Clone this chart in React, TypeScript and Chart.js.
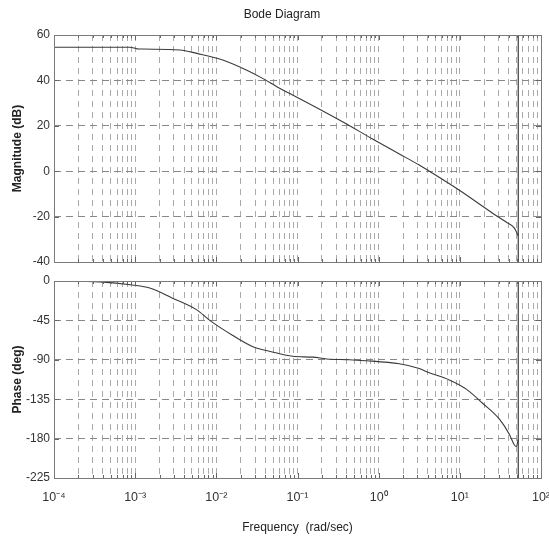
import React, { useEffect, useRef } from "react";
import { Chart, registerables } from "chart.js";

Chart.register(...registerables);

// ---------- data ----------
const magFreq = [0.0001, 0.00086, 0.00106, 0.00124, 0.00355, 0.00575, 0.012, 0.0234, 0.0372, 0.0603, 0.087, 0.359, 0.84, 1.8, 3.16, 4.57, 9.77, 25.1, 37.2, 46.8, 52.5];
const magDb = [54.6, 54.6, 53.9, 53.8, 53.4, 51.9, 49.0, 44.6, 40.9, 36.5, 33.6, 21.8, 14.2, 7.6, 2.7, -0.8, -8.3, -18.4, -22.4, -25.0, -28.5];

const phaseFreq = [0.0001, 0.00037, 0.00093, 0.00151, 0.00288, 0.00575, 0.0083, 0.0158, 0.0282, 0.049, 0.087, 0.155, 0.229, 0.436, 0.708, 1.8, 3.16, 3.98, 7.41, 12.0, 19.05, 30.9, 40.7, 46.8, 49.5, 52.5];
const phaseDeg = [0, -1, -4.6, -8, -19.6, -33, -45, -62, -75, -81, -86, -87, -89, -90, -91, -94.6, -100, -104, -113, -123.5, -139.6, -158, -175, -187, -189, -181];

const markerFreq = 52.5;

const magTicks = [-40, -20, 0, 20, 40, 60];
const phaseTicks = [-225, -180, -135, -90, -45, 0];
const decadeExponents = [-4, -3, -2, -1, 0, 1, 2];
const decadeLabels = ["10⁻⁴", "10⁻³", "10⁻²", "10⁻¹", "10⁰", "10¹", "10²"];
const minorMultipliers = [1, 2, 3, 4, 5, 6, 7, 8, 9];

const titleText = "Bode Diagram";
const magLabel = "Magnitude (dB)";
const phaseLabel = "Phase (deg)";
const freqLabel = "Frequency  (rad/sec)";

// ---------- helpers ----------
const FONT = '"Liberation Sans", Arial, sans-serif';

const freqTicks: number[] = [];
decadeExponents.forEach((e, i) => {
  if (i === decadeExponents.length - 1) {
    freqTicks.push(Math.pow(10, e));
  } else {
    minorMultipliers.forEach((m) => freqTicks.push(m * Math.pow(10, e)));
  }
});

function decadeLabel(v: number): string {
  for (let i = 0; i < decadeExponents.length; i++) {
    const d = Math.pow(10, decadeExponents[i]);
    if (Math.abs(v - d) / d < 1e-6) return decadeLabels[i];
  }
  return "";
}

const framePlugin = {
  id: "frame",
  afterDraw(chart: any, _args: any, opts: any) {
    const { ctx, chartArea: a } = chart;
    const xs = chart.scales.x;
    const ys = chart.scales.y;
    ctx.save();
    // inward tick marks
    ctx.strokeStyle = "#666";
    ctx.lineWidth = 1;
    ctx.setLineDash([]);
    ctx.beginPath();
    freqTicks.forEach((v) => {
      const px = Math.round(xs.getPixelForValue(v)) + 0.5;
      const isMajor = decadeLabel(v) !== "";
      const len = isMajor ? 5 : 3;
      ctx.moveTo(px, a.top);
      ctx.lineTo(px, a.top + len);
      ctx.moveTo(px, a.bottom);
      ctx.lineTo(px, a.bottom - len);
    });
    (opts.yTicks as number[]).forEach((v) => {
      const py = Math.round(ys.getPixelForValue(v)) + 0.5;
      ctx.moveTo(a.left, py);
      ctx.lineTo(a.left + 5, py);
      ctx.moveTo(a.right, py);
      ctx.lineTo(a.right - 5, py);
    });
    ctx.stroke();
    // frame
    ctx.strokeStyle = "#7a7a7a";
    ctx.strokeRect(Math.round(a.left) + 0.5, Math.round(a.top) + 0.5, Math.round(a.right - a.left), Math.round(a.bottom - a.top));
    // title
    if (opts.title) {
      ctx.fillStyle = "#222";
      ctx.font = "12px " + FONT;
      ctx.textAlign = "center";
      ctx.textBaseline = "middle";
      ctx.fillText(opts.title, opts.titleX, opts.titleY);
    }
    ctx.restore();
  },
};

function makeConfig(opts: {
  lineFreq: number[];
  lineVals: number[];
  yTicks: number[];
  yLabel: string;
  showX: boolean;
  xAxisHeight: number;
  padTop: number;
  title?: string;
}) {
  const yMin = opts.yTicks[0];
  const yMax = opts.yTicks[opts.yTicks.length - 1];
  return {
    type: "line",
    data: {
      datasets: [
        {
          data: opts.lineFreq.map((f, i) => ({ x: f, y: opts.lineVals[i] })),
          borderColor: "#3a3a3a",
          borderWidth: 1.1,
          pointRadius: 0,
          cubicInterpolationMode: "monotone",
          fill: false,
        },
        {
          data: [
            { x: markerFreq, y: yMin },
            { x: markerFreq, y: yMax },
          ],
          borderColor: "#555",
          borderWidth: 1.4,
          pointRadius: 0,
          tension: 0,
          fill: false,
        },
      ],
    },
    options: {
      animation: false,
      responsive: false,
      maintainAspectRatio: false,
      events: [],
      layout: { padding: { top: opts.padTop, right: 8, bottom: 0, left: 0 } },
      plugins: {
        legend: { display: false },
        tooltip: { enabled: false },
        title: { display: false },
        frame: { yTicks: opts.yTicks, title: opts.title, titleX: 282, titleY: 15 },
      },
      scales: {
        x: {
          type: "logarithmic",
          min: 1e-4,
          max: 100,
          afterBuildTicks: (scale: any) => {
            scale.ticks = freqTicks.map((v) => ({ value: v }));
          },
          afterFit: (scale: any) => {
            scale.height = opts.xAxisHeight;
            scale.paddingLeft = 0;
            scale.paddingRight = 0;
          },
          grid: {
            color: "#aaaaaa",
            lineWidth: 1,
            drawTicks: false,
          },
          border: { display: false, dash: [6, 5] },
          ticks: {
            display: opts.showX,
            autoSkip: false,
            maxRotation: 0,
            minRotation: 0,
            padding: 12,
            color: "#333",
            font: { family: FONT, size: 12.5 },
            callback: (v: any) => decadeLabel(Number(v)),
          },
          title: {
            display: opts.showX,
            text: freqLabel,
            color: "#222",
            font: { family: FONT, size: 12 },
            padding: { top: 4, bottom: 4 },
          },
        },
        y: {
          type: "linear",
          min: yMin,
          max: yMax,
          afterBuildTicks: (scale: any) => {
            scale.ticks = opts.yTicks.map((v) => ({ value: v }));
          },
          afterFit: (scale: any) => {
            scale.width = 54;
            scale.paddingTop = 0;
            scale.paddingBottom = 0;
          },
          grid: {
            color: "#888888",
            lineWidth: 1,
            drawTicks: false,
          },
          border: { display: false, dash: [7, 5] },
          ticks: {
            padding: 4,
            color: "#333",
            font: { family: FONT, size: 12 },
          },
          title: {
            display: true,
            text: opts.yLabel,
            color: "#222",
            font: { family: FONT, size: 12, weight: "bold" },
            padding: { top: 10, bottom: 4 },
          },
        },
      },
    },
    plugins: [framePlugin],
  } as any;
}

export default function App() {
  const topRef = useRef<HTMLCanvasElement | null>(null);
  const botRef = useRef<HTMLCanvasElement | null>(null);

  useEffect(() => {
    if (!topRef.current || !botRef.current) return;
    const c1 = new Chart(
      topRef.current,
      makeConfig({
        lineFreq: magFreq,
        lineVals: magDb,
        yTicks: magTicks,
        yLabel: magLabel,
        showX: false,
        xAxisHeight: 10,
        padTop: 35,
        title: titleText,
      })
    );
    const c2 = new Chart(
      botRef.current,
      makeConfig({
        lineFreq: phaseFreq,
        lineVals: phaseDeg,
        yTicks: phaseTicks,
        yLabel: phaseLabel,
        showX: true,
        xAxisHeight: 61,
        padTop: 9,
      })
    );
    return () => {
      c1.destroy();
      c2.destroy();
    };
  }, []);

  return (
    <div style={{ position: "fixed", left: 0, top: 0, width: 549, height: 539, background: "#fff" }}>
      <canvas ref={topRef} width={549} height={272} style={{ position: "absolute", left: 0, top: 0, width: 549, height: 272 }} />
      <canvas ref={botRef} width={549} height={267} style={{ position: "absolute", left: 0, top: 272, width: 549, height: 267 }} />
    </div>
  );
}
